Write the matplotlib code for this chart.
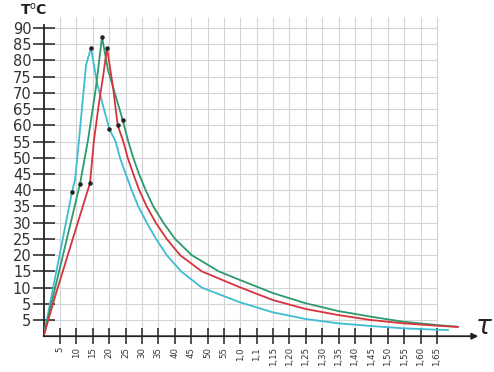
import matplotlib
matplotlib.use("Agg")
import matplotlib.pyplot as plt

# ---- data (x and y in chart units: one grid step = 5) ----
x_ticks = list(range(5, 125, 5))
x_labels = ["5", "10", "15", "20", "25", "30", "35", "40", "45", "50", "55",
            "1,0", "1,1", "1,15", "1,20", "1,25", "1,30", "1,35", "1,40",
            "1,45", "1,50", "1,55", "1,60", "1,65"]
y_ticks = list(range(5, 100, 5))
y_labels = ["5", "5", "10", "15", "20", "25", "30", "35", "40", "45", "50",
            "55", "60", "65", "70", "75", "80", "85", "90"]

cyan_x = [0, 8.66, 9.58, 10.8, 12.94, 14.46, 16.29, 20.04, 22.0, 23.3, 25.05, 26.88,
          28.89, 31.45, 34.29, 37.55, 41.92, 48.23, 59.91, 69.89, 79.96, 89.81,
          99.88, 109.64, 119.92, 123.37]
cyan_y = [0, 44.45, 48.15, 60.5, 83.6, 88.84, 78.05, 63.87, 60.0, 55.0, 50.0, 45.0,
          40.0, 35.0, 30.0, 25.0, 20.0, 15.0, 10.45, 7.37, 5.30, 3.98,
          3.14, 2.44, 2.0, 1.91]

green_x = [0, 11.1, 13.55, 15.99, 17.82, 19.65, 24.13, 25.84, 27.36, 29.1, 31.15,
           33.47, 36.52, 40.09, 45.18, 53.4, 59.91, 69.89, 79.96, 89.81, 99.88,
           109.64, 119.92, 126.02]
green_y = [0, 46.92, 60.48, 76.82, 92.23, 82.06, 66.65, 60.0, 55.0, 50.0, 45.0,
           40.0, 35.0, 30.0, 25.0, 20.0, 17.32, 13.32, 10.14, 7.77, 6.01,
           4.47, 3.45, 2.93]

red_x = [0, 4.09, 14.16, 15.38, 16.9, 18.12, 19.34, 21.17, 22.61, 24.31, 25.66,
         27.36, 29.19, 31.45, 34.2, 37.55, 41.61, 48.23, 59.91, 69.89, 79.96,
         89.81, 99.88, 109.64, 119.92, 126.42]
red_y = [0, 14.24, 47.2, 60.5, 71.9, 79.9, 88.84, 76.82, 65.0, 60.0, 55.0,
         50.0, 45.0, 40.0, 35.0, 30.0, 25.0, 20.0, 15.07, 11.16, 8.38,
         6.54, 4.99, 3.98, 3.24, 2.84]

cyan_dots_x = [8.66, 14.46, 20.04]
cyan_dots_y = [44.45, 88.84, 63.87]
green_dots_x = [11.1, 17.82, 24.13]
green_dots_y = [46.92, 92.23, 66.65]
red_dots_x = [14.16, 19.34, 22.61]
red_dots_y = [47.2, 88.84, 65.0]

# ---- figure ----
W, H = 494, 372
fig = plt.figure(figsize=(W / 100, H / 100), dpi=100)
ox, oy = 43.6, 336.2
sx, sy = 16.39 / 5, 16.22 / 5   # px per chart unit
right_px, top_px = 480, 12
ax = fig.add_axes([ox / W, (H - oy) / H, (right_px - ox) / W, (oy - top_px) / H])
ax.set_xlim(0, (right_px - ox) / sx)
ax.set_ylim(0, (oy - top_px) / sy)
ax.patch.set_alpha(0)

# grid
ax.vlines(x_ticks, 0, 98.4, color="#d4d4d4", lw=0.8, zorder=0)
ax.hlines(y_ticks, 0, 120, color="#d4d4d4", lw=0.8, zorder=0)

# curves
ax.plot(cyan_x, cyan_y, color="#3dbcd3", lw=1.3, zorder=3, solid_joinstyle="round")
ax.plot(green_x, green_y, color="#2c9a6c", lw=1.3, zorder=3, solid_joinstyle="round")
ax.plot(red_x, red_y, color="#d6333c", lw=1.3, zorder=3, solid_joinstyle="round")
for dx, dy in [(cyan_dots_x, cyan_dots_y), (green_dots_x, green_dots_y), (red_dots_x, red_dots_y)]:
    ax.scatter(dx, dy, s=5, color="#222222", zorder=4)

# spines / axes
for s in ["top", "right", "bottom"]:
    ax.spines[s].set_visible(False)
ax.spines["left"].set_color("#222222")
ax.spines["left"].set_linewidth(1.3)
ax.spines["left"].set_bounds(0, 96)
ax.annotate("", xy=(132.6, 0), xytext=(0, 0),
            arrowprops=dict(arrowstyle="-|>", color="#222222", lw=1.3,
                            mutation_scale=9, shrinkA=0, shrinkB=0),
            annotation_clip=False, zorder=5)

ax.set_xticks(x_ticks)
ax.set_xticklabels(x_labels, rotation=90, fontsize=6.2, color="#333333")
ax.set_yticks(y_ticks)
ax.set_yticklabels(y_labels, fontsize=10.5, color="#333333")
ax.tick_params(axis="y", direction="inout", length=15.8, width=1.1, color="#222222", pad=0.8)
ax.tick_params(axis="x", direction="inout", length=11.5, width=1.1, color="#222222", pad=2)

ax.text(-2.9, 100.8, r"T$^{\rm o}$C", fontsize=10, fontweight="bold", color="#222222",
        ha="center", va="center", clip_on=False)
ax.text(134.2, 2.8, r"$\tau$", fontsize=19, color="#222222", ha="center", va="center", clip_on=False)

fig.savefig("out.png", dpi=100)
